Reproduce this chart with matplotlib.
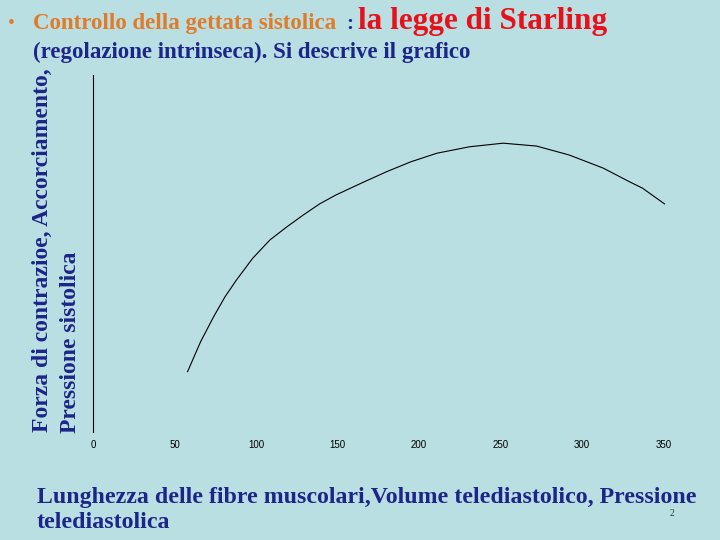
import matplotlib.pyplot as plt

# curve (arbitrary y units, no y ticks in original)
lunghezza = [58, 66, 74, 81, 88, 98, 108.5, 119, 129, 139, 149, 165, 180,
             195, 211, 231, 251.5, 272, 292, 313, 329, 337, 350.5]
forza = [16.9, 25.3, 32.3, 37.9, 42.6, 48.7, 53.8, 57.5, 60.8, 63.9, 66.4,
         69.8, 72.9, 75.7, 78.1, 79.9, 80.9, 80.1, 77.6, 73.9, 70.1, 68.3, 63.9]
xticks = [0, 50, 100, 150, 200, 250, 300, 350]

bg = '#badfe2'
navy = '#1c2588'
serif = 'Liberation Serif'

fig = plt.figure(figsize=(7.2, 5.4), dpi=100, facecolor=bg)
ax = fig.add_axes([93 / 720, 108 / 540, 587 / 720, 357 / 540], facecolor=bg)

ax.plot(lunghezza, forza, color='black', linewidth=0.8)

ax.set_xlim(0, 360)
ax.set_ylim(0, 100)
ax.set_xticks(xticks)
ax.set_xticklabels([str(t) for t in xticks], fontsize=7, family='Liberation Sans')
ax.tick_params(axis='x', length=0, pad=6)
ax.set_yticks([])
for s in ['top', 'right', 'bottom']:
    ax.spines[s].set_visible(False)
ax.spines['left'].set_linewidth(0.8)

# title lines
fig.text(8 / 720, 1 - 24 / 540, '•', color='#e07b2a', fontsize=14,
         family=serif, va='center')
fig.text(33 / 720, 1 - 24 / 540, 'Controllo della gettata sistolica',
         color='#e07b2a', fontsize=16.5, family=serif, fontweight='bold',
         va='center')
fig.text(346 / 720, 1 - 24 / 540, ':', color=navy, fontsize=15,
         family=serif, fontweight='bold', va='center')
fig.text(358 / 720, 1 - 22 / 540, 'la legge di Starling', color='#e8101a',
         fontsize=22.5, family=serif, fontweight='bold', va='center')
fig.text(33 / 720, 1 - 52 / 540, '(regolazione intrinseca). Si descrive il grafico',
         color=navy, fontsize=16.5, family=serif, fontweight='bold', va='center')

# y label (two lines)
fig.text(42 / 720, 1 - 250 / 540, 'Forza di contrazioe, Accorciamento,',
         color=navy, fontsize=17, family=serif, fontweight='bold',
         rotation=90, ha='center', va='center')
fig.text(71 / 720, 1 - 342 / 540, 'Pressione sistolica',
         color=navy, fontsize=17, family=serif, fontweight='bold',
         rotation=90, ha='center', va='center')

# x label (two lines)
fig.text(37 / 720, 1 - 497 / 540,
         'Lunghezza delle fibre muscolari,Volume telediastolico, Pressione',
         color=navy, fontsize=17.2, family=serif, fontweight='bold', va='center')
fig.text(37 / 720, 1 - 523 / 540, 'telediastolica',
         color=navy, fontsize=17.2, family=serif, fontweight='bold', va='center')
fig.text(672 / 720, 1 - 514 / 540, '2', color='#333333', fontsize=7,
         family=serif, ha='center', va='center')

fig.savefig('out.png', dpi=100, facecolor=bg)
